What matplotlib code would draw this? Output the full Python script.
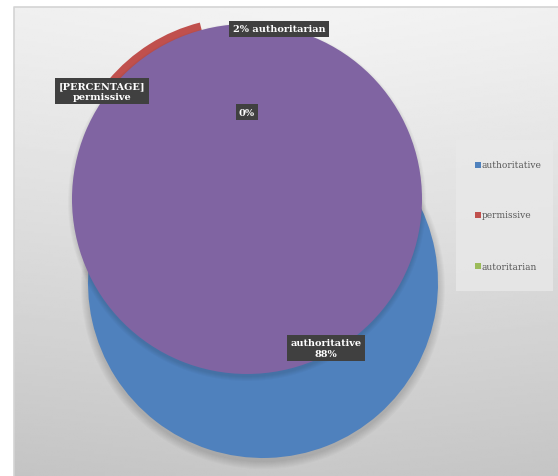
import numpy as np
import matplotlib.pyplot as plt
from matplotlib.patches import Rectangle, Circle

# data
categories = ['authoritative', 'permissive', 'autoritarian']
shares = [88, 10, 2]
colors = ['#4f81bd', '#c0504d', '#9bbb59']
overlay_color = '#8064a2'
label_texts = ['authoritative\n88%', '[PERCENTAGE]\npermissive', '2% authoritarian', '0%']

W, H = 558, 477

def Y(y):
  # pixel row -> data y (y axis points up)
  return H - y

fig = plt.figure(figsize=(W / 100, H / 100), dpi=100)
ax = fig.add_axes([0, 0, 1, 1])

# gradient background of the chart area
gy, gx = np.mgrid[0:1:200j, 0:1:200j]
shade = 0.955 - 0.17 * gy ** 1.1 - 0.03 * np.abs(gx - 0.55)
ax.imshow(shade, cmap='gray', vmin=0, vmax=1, extent=(14, W, Y(H), Y(8)),
          origin='upper', zorder=0, aspect='auto')
ax.plot([14, 14, W], [Y(H), Y(8), Y(8)], color='#d4d4d4', lw=1.2, zorder=1)

# main pie (blue)
c1 = (263, Y(284))
r = 175
for k in range(8):
  ax.add_patch(Circle((c1[0], c1[1] - 4), r + k * 1.0, color='black',
                      alpha=0.02, lw=0, zorder=2))
ax.pie(shares, colors=colors, center=c1, radius=r, startangle=90,
       counterclock=False, frame=True, wedgeprops=dict(lw=0, zorder=3))

# second pie: only the exploded permissive slice peeks out
c2 = (247, Y(200))
ax.pie(shares, colors=['none', colors[1], 'none'], center=c2, radius=r,
       startangle=97, counterclock=False, explode=[0, 8, 0], frame=True,
       wedgeprops=dict(lw=0, zorder=4))

# purple overlay on top
for k in range(5):
  ax.add_patch(Circle((c2[0], c2[1] - 3), r + k * 1.0, color='black',
                      alpha=0.025, lw=0, zorder=4.5))
ax.pie([1], colors=[overlay_color], center=c2, radius=r, frame=True,
       wedgeprops=dict(lw=0, zorder=5))

# data labels
label_pos = [(326, 349), (102, 92), (279, 30), (247, 113)]
for txt, (x, y) in zip(label_texts, label_pos):
  ax.text(x, Y(y), txt, ha='center', va='center', color='white',
          fontsize=7, fontweight='bold', family='DejaVu Serif',
          linespacing=1.15, zorder=7,
          bbox=dict(boxstyle='square,pad=0.35', fc='#404040', ec='none'))

# legend
ax.add_patch(Rectangle((456, Y(292)), 97, 151, fc='#e9e9e9', ec='none',
                       alpha=0.8, zorder=6))
leg_y = [166, 216, 267]
for name, col, y in zip(categories, colors, leg_y):
  ax.scatter([478], [Y(y)], marker='s', s=14, color=col, lw=0, zorder=7)
  ax.text(482, Y(y), name, ha='left', va='center', color='#595959',
          fontsize=6.5, family='DejaVu Serif', zorder=7)

ax.set_xlim(0, W)
ax.set_ylim(0, H)
ax.set_aspect('auto')
ax.axis('off')

fig.savefig('out.png', dpi=100)
